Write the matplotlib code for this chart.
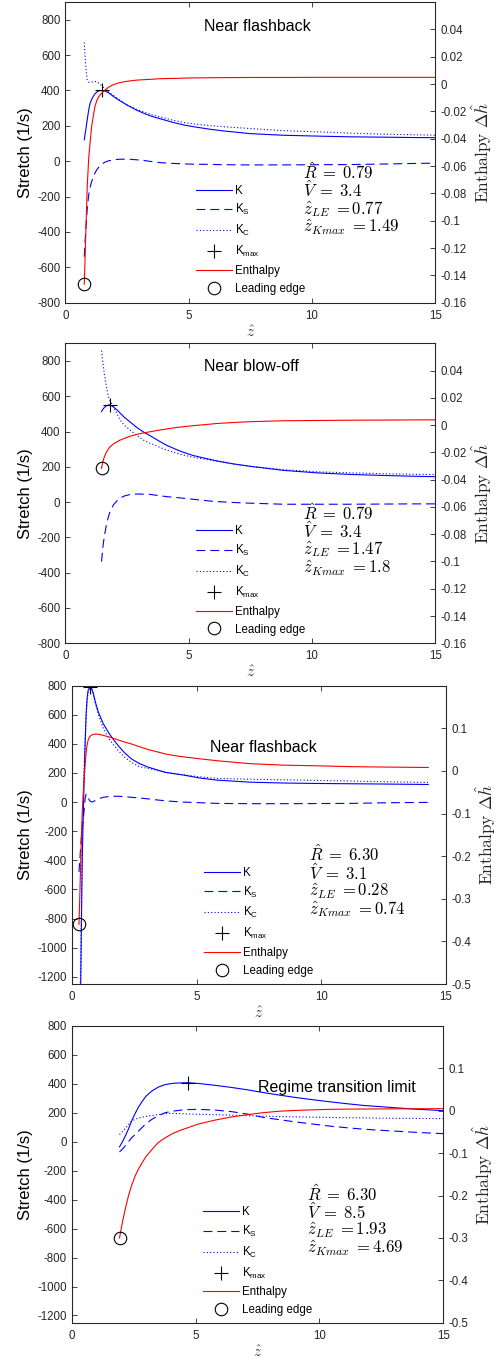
#!/usr/bin/env python

"""
Stretch and enthalpy along the flame front for four operating points.
"""

import matplotlib.pyplot as plt
from matplotlib.ticker import FuncFormatter

plt.rcParams['font.family'] = ['Liberation Sans', 'DejaVu Sans']
plt.rcParams['axes.unicode_minus'] = False
plt.rcParams['mathtext.fontset'] = 'custom'
plt.rcParams['mathtext.rm'] = 'Liberation Sans'
plt.rcParams['mathtext.it'] = 'Liberation Sans:italic'
plt.rcParams['mathtext.default'] = 'it'

# --- case 1: near flashback, R=0.79
z1 = [0.77, 0.80, 0.84, 0.89, 0.95, 1.0, 1.07, 1.14, 1.2, 1.27, 1.34, 1.41, 1.49,
      1.6, 1.75, 1.95, 2.2, 2.5, 2.9, 3.2, 3.5, 3.85, 4.3, 4.8, 5.2, 5.9, 6.5,
      7.5, 8.8, 10.2, 11.5, 12.9, 14.0, 15.0]
k1 = [121, 150, 185, 235, 290, 325, 350, 368, 380, 390, 396, 399, 400,
      397, 388, 366, 343, 318, 288, 270, 254, 240, 222, 205, 195, 180, 170,
      156, 147, 142, 138, 136, 134, 133]
ks1 = [-540, -460, -370, -270, -190, -150, -115, -88, -68, -50, -37, -26, -15,
       -6, 2, 8, 11, 12, 8, 4, -2, -8, -12, -15, -17, -18, -20,
       -21, -21, -20, -19, -16, -13, -11]
kc1 = [672, 600, 520, 460, 447, 445, 447, 450, 451, 450, 443, 435, 425,
       410, 392, 372, 347, 318, 293, 277, 263, 250, 234, 219, 211, 201, 194,
       185, 173, 166, 159, 153, 150, 147]
h1 = [-0.1465, -0.129, -0.104, -0.075, -0.054, -0.044, -0.031, -0.023, -0.0166,
      -0.0125, -0.0098, -0.008, -0.0065, -0.0045, -0.0024, -0.0005, 0.001,
      0.002, 0.0029, 0.0032, 0.0035, 0.0039, 0.0041, 0.0043, 0.0045, 0.0046,
      0.0047, 0.0048, 0.0048, 0.0049, 0.0049, 0.0049, 0.0049, 0.0049]

# --- case 2: near blow-off, R=0.79
z2 = [1.47, 1.52, 1.58, 1.66, 1.75, 1.8, 1.95, 2.1, 2.22, 2.4, 2.62, 2.9, 3.16,
      3.43, 3.84, 4.11, 4.52, 4.78, 5.19, 5.87, 6.14, 6.8, 7.49, 8.84, 10.19,
      11.54, 12.9, 14.0, 15.0]
k2 = [513, 525, 536, 545, 550, 551, 540, 522, 505, 480, 455, 423, 398,
      377, 343, 322, 297, 283, 264, 242, 234, 217, 203, 180, 166,
      157, 151, 147, 144]
ks2 = [-337, -260, -196, -135, -82, -60, -16, 8, 22, 35, 43, 46, 45,
       44, 36, 31, 26, 22, 16, 6, 3, -2, -6, -12, -12,
       -12, -11, -10, -10]
kc2 = [858, 795, 730, 660, 598, 580, 541, 500, 466, 435, 409, 378, 352,
       334, 310, 295, 277, 267, 254, 238, 232, 216, 203, 184, 172,
       166, 161, 158, 156]
h2 = [-0.0317, -0.027, -0.0235, -0.020, -0.0175, -0.0162, -0.0138, -0.0122,
      -0.011, -0.0097, -0.0082, -0.0068, -0.0058, -0.0049, -0.0036, -0.0028,
      -0.0017, -0.0012, -0.0004, 0.0007, 0.0012, 0.0019, 0.0025, 0.0032,
      0.0034, 0.0036, 0.0037, 0.0038, 0.0039]

# --- case 3: near flashback, R=6.30
z3 = [0.28, 0.30, 0.32, 0.35, 0.38, 0.41, 0.45, 0.49, 0.53, 0.57, 0.61, 0.65,
      0.70, 0.74, 0.79, 0.85, 0.95, 1.06, 1.25, 1.46, 1.66, 1.86, 2.1, 2.39,
      2.7, 3.06, 3.4, 3.73, 4.1, 4.46, 5.1, 5.8, 7.13, 8.47, 9.8, 11.14, 12.5,
      14.29]
k3 = [-1700, -1600, -1450, -1250, -800, -400, -100, 180, 420, 617, 720, 770,
      785, 790, 780, 750, 680, 617, 540, 479, 430, 387, 340, 296,
      265, 240, 222, 205, 195, 186, 166, 151, 137, 131, 128, 126, 124,
      121]
ks3 = [-480, -430, -380, -300, -230, -170, -130, -50, 30, 55, 48, 30,
       12, 4, 1, 3, 12, 22, 33, 38, 40, 40, 37, 33,
       28, 22, 15, 9, 4, 0, -4, -9, -11, -11, -10, -9, -5,
       -2]
kc3 = [-1400, -1350, -1300, -1150, -700, -300, 20, 260, 430, 600, 700, 760,
       780, 782, 772, 740, 670, 600, 510, 440, 395, 353, 310, 272,
       243, 232, 218, 205, 196, 188, 174, 163, 157, 153, 149, 145, 140,
       135]
h3 = [-0.36, -0.32, -0.28, -0.21, -0.15, -0.098, -0.055, -0.0195, 0.018, 0.045,
      0.062, 0.073, 0.079, 0.082, 0.084, 0.0855, 0.0864, 0.086, 0.0835, 0.080,
      0.0765, 0.0725, 0.068, 0.063, 0.057, 0.050, 0.045, 0.040, 0.036, 0.033,
      0.0285, 0.024, 0.017, 0.0135, 0.012, 0.010, 0.009, 0.008]

# --- case 4: regime transition limit, R=6.30
z4 = [1.93, 2.05, 2.15, 2.29, 2.42, 2.56, 2.69, 2.85, 3.0, 3.23, 3.5, 3.77, 4.1,
      4.44, 4.69, 5.11, 5.79, 6.46, 7.13, 7.74, 8.4, 9.08, 9.8, 10.43, 11.1,
      11.78, 12.5, 13.13, 14.0, 15.0]
k4 = [-35, 0, 35, 87, 145, 195, 238, 280, 315, 350, 378, 395, 404,
      407, 408, 403, 390, 375, 358, 340, 322, 305, 289, 276, 263,
      251, 242, 234, 224, 215]
ks4 = [-70, -50, -31, 0, 28, 50, 73, 100, 125, 154, 180, 201, 212,
       219, 222, 224, 219, 208, 190, 168, 152, 136, 121, 108, 97,
       87, 79, 73, 64, 56]
kc4 = [50, 70, 90, 118, 143, 155, 163, 170, 175, 181, 188, 195, 196,
       194, 192, 190, 187, 184, 180, 177, 174, 172, 170, 168, 166,
       165, 163, 162, 161, 160]
h4 = [-0.30, -0.262, -0.235, -0.201, -0.176, -0.154, -0.138, -0.122, -0.108,
      -0.092, -0.0747, -0.064, -0.053, -0.045, -0.040, -0.0314, -0.022,
      -0.0145, -0.009, -0.0045, -0.001, 0.0009, 0.0023, 0.0033, 0.0038,
      0.004, 0.0043, 0.0045, 0.0047, 0.0049]

titles = ['Near flashback', 'Near blow-off', 'Near flashback',
          'Regime transition limit']
r_hat = ['0.79', '0.79', '6.30', '6.30']
v_hat = ['3.4', '3.4', '3.1', '8.5']
z_le = [0.77, 1.47, 0.28, 1.93]
z_kmax = [1.49, 1.8, 0.74, 4.69]

cases = [(z1, k1, ks1, kc1, h1), (z2, k2, ks2, kc2, h2),
         (z3, k3, ks3, kc3, h3), (z4, k4, ks4, kc4, h4)]

# axes rectangles (figure fraction) and text placement (axes fraction)
rects = [[0.1303, 0.7771, 0.7385, 0.2214],
         [0.1303, 0.5263, 0.7385, 0.2209],
         [0.1437, 0.2754, 0.7465, 0.2197],
         [0.1431, 0.0260, 0.7417, 0.2185]]
left_lims = [(-800, 900), (-800, 900), (-1250, 800), (-1250, 800)]
left_ticks = [range(-800, 801, 200), range(-800, 801, 200),
              range(-1200, 801, 200), range(-1200, 801, 200)]
right_lims = [(-0.16, 0.06), (-0.16, 0.06), (-0.5, 0.2), (-0.5, 0.2)]
right_ticks = [[-0.16 + 0.02 * i for i in range(11)],
               [-0.16 + 0.02 * i for i in range(11)],
               [-0.5 + 0.1 * i for i in range(7)],
               [-0.5 + 0.1 * i for i in range(7)]]
title_pos = [(0.376, 0.918), (0.376, 0.922), (0.369, 0.793), (0.5005, 0.793)]
note_x = [0.643, 0.643, 0.634, 0.632]

AXCOL = '#262626'
FS = 8.3


def fmt_tick(v, pos):
    return '%g' % round(v, 4)


def draw_case(fig, i):
    z, k, ks, kc, h = cases[i]
    ax = fig.add_axes(rects[i])
    ax2 = ax.twinx()

    l_k, = ax.plot(z, k, color='b', lw=0.8)
    l_ks, = ax.plot(z, ks, color='b', lw=0.8, dashes=(8, 4.5))
    l_kc, = ax.plot(z, kc, color='b', lw=0.8, dashes=(1, 2))
    j = z.index(z_kmax[i])
    l_max, = ax.plot([z_kmax[i]], [k[j]], '+', color='k', ms=10, mew=0.8)

    l_h, = ax2.plot(z, h, color='r', lw=0.8)
    l_le, = ax2.plot([z_le[i]], [h[0]], 'o', mfc='none', mec='k', ms=9, mew=0.8)

    ax.set_xlim(0, 15)
    ax.set_ylim(*left_lims[i])
    ax.set_yticks(list(left_ticks[i]))
    ax.set_xticks([0, 5, 10, 15])
    ax2.set_ylim(*right_lims[i])
    ax2.set_yticks(right_ticks[i])
    ax2.yaxis.set_major_formatter(FuncFormatter(fmt_tick))

    ax.tick_params(axis='x', direction='in', top=True, length=3.5, width=0.6,
                   labelsize=FS, pad=5, colors=AXCOL)
    ax.tick_params(axis='y', direction='in', right=False, length=3.5,
                   width=0.6, labelsize=FS, pad=3.5, colors=AXCOL)
    ax2.tick_params(axis='y', direction='in', length=3.5, width=0.6,
                    labelsize=FS, pad=3.8, colors=AXCOL)
    for a in (ax, ax2):
        for s in a.spines.values():
            s.set_linewidth(0.75)
            s.set_color(AXCOL)

    ax.set_xlabel(r'$\hat{z}$', math_fontfamily='cm', fontsize=11,
                  labelpad=2, color=AXCOL)
    ax.set_ylabel('Stretch (1/s)', fontsize=12, labelpad=3, color='k')
    ax2.set_ylabel(r'$\mathrm{Enthalpy}\ \Delta\hat{h}$', math_fontfamily='cm',
                   fontsize=12.5, labelpad=1.5, color=AXCOL)

    ax.text(title_pos[i][0], title_pos[i][1], titles[i], transform=ax.transAxes,
            fontsize=11.5, ha='left', va='center')

    notes = [r'$\hat{R}\;=\;\mathrm{%s}$' % r_hat[i],
             r'$\hat{V}\;=\;\mathrm{%s}$' % v_hat[i],
             r'$\hat{z}_{LE}\;=\mathrm{%g}$' % z_le[i],
             r'$\hat{z}_{Kmax}\;=\mathrm{%g}$' % z_kmax[i]]
    for n, y in zip(notes, [0.411, 0.350, 0.296, 0.234]):
        ax.text(note_x[i], y, n, transform=ax.transAxes, fontsize=12,
                math_fontfamily='cm', ha='left', va='baseline')

    handles = [l_k, l_ks, l_kc, l_max, l_h, l_le]
    labels = ['K', r'K$_\mathrm{S}$', r'K$_\mathrm{C}$', r'K$_\mathrm{max}$',
              'Enthalpy', 'Leading edge']
    ax2.legend(handles, labels, loc='upper left', bbox_to_anchor=(0.353, 0.393),
               frameon=False, fontsize=FS, handlelength=3.1, handletextpad=0.3,
               labelspacing=0.5, borderpad=0, borderaxespad=0, numpoints=1)


def main():
    fig = plt.figure(figsize=(5.01, 13.58), dpi=100)
    for i in range(len(cases)):
        draw_case(fig, i)
    fig.savefig('out.png', dpi=100)


if __name__ == '__main__':
    main()
